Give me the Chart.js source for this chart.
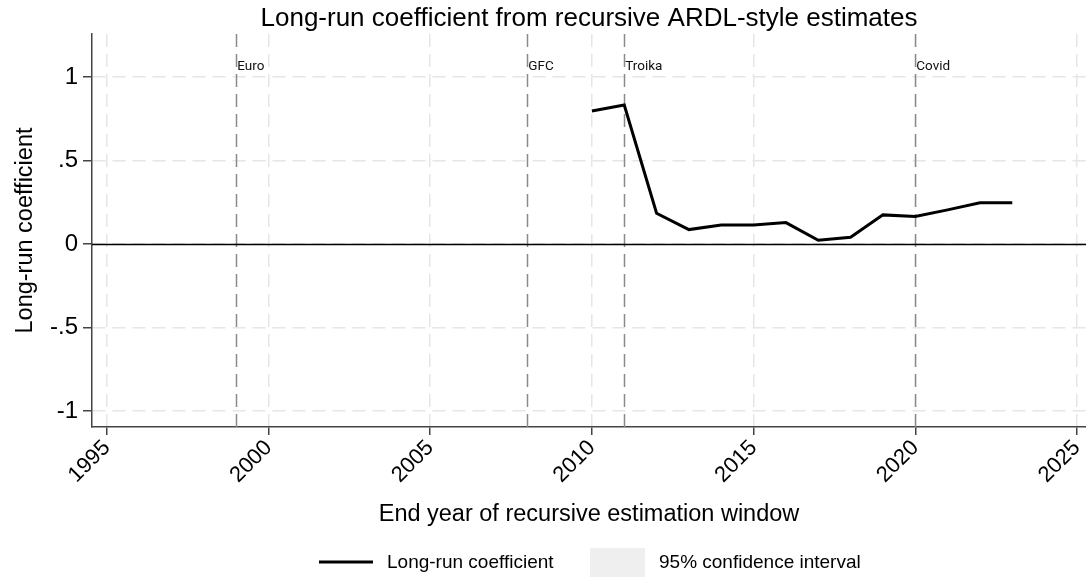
<!DOCTYPE html>
<html>
<head>
<meta charset="utf-8">
<title>Long-run coefficient</title>
<script src="https://cdn.jsdelivr.net/npm/chart.js@4.4.1/dist/chart.umd.min.js"></script>
<style>
  body { margin: 0; background: #fff; }
  canvas { display: block; }
</style>
</head>
<body>
<canvas id="myChart" width="1086" height="578"></canvas>
<script>
// data
const years = [2010, 2011, 2012, 2013, 2014, 2015, 2016, 2017, 2018, 2019, 2020, 2021, 2022, 2023]
const coef = [0.796, 0.832, 0.184, 0.086, 0.114, 0.114, 0.128, 0.022, 0.040, 0.174, 0.164, 0.204, 0.246, 0.246]

const xTicks = [1995, 2000, 2005, 2010, 2015, 2020, 2025]
const yTicks = [-1, -0.5, 0, 0.5, 1]
const yTickLabels = ['-1', '-.5', '0', '.5', '1']

const eventYears = [1999, 2008, 2011, 2020]
const eventLabels = ['Euro', 'GFC', 'Troika', 'Covid']

const legendLabels = ['Long-run coefficient', '95% confidence interval']

const FONT = '"Liberation Sans", Arial, sans-serif'

const extras = {
  id: 'extras',
  beforeDatasetsDraw(chart) {
    const {ctx, chartArea, scales} = chart
    ctx.save()
    // event lines
    ctx.strokeStyle = '#8a8a8a'
    ctx.lineWidth = 1.5
    ctx.setLineDash([13, 7])
    eventYears.forEach(yr => {
      const x = Math.round(scales.x.getPixelForValue(yr)) + 0.5
      ctx.beginPath()
      ctx.moveTo(x, chartArea.top)
      ctx.lineTo(x, chartArea.bottom)
      ctx.stroke()
    })
    // zero line
    ctx.setLineDash([])
    ctx.strokeStyle = '#000'
    ctx.lineWidth = 1.3
    const y0 = Math.round(scales.y.getPixelForValue(0)) + 0.5
    ctx.beginPath()
    ctx.moveTo(chartArea.left, y0)
    ctx.lineTo(chartArea.right, y0)
    ctx.stroke()
    // event labels
    ctx.fillStyle = '#111'
    ctx.font = '13.5px Roboto, ' + FONT
    ctx.textBaseline = 'middle'
    ctx.textAlign = 'left'
    eventYears.forEach((yr, i) => {
      ctx.fillText(eventLabels[i], scales.x.getPixelForValue(yr) + 1, 67)
    })
    ctx.restore()
  },
  afterDraw(chart) {
    const {ctx, chartArea} = chart
    ctx.save()
    // title
    ctx.fillStyle = '#000'
    ctx.font = '26px ' + FONT
    ctx.textAlign = 'center'
    ctx.textBaseline = 'middle'
    ctx.fillText('Long-run coefficient from recursive ARDL-style estimates', (chartArea.left + chartArea.right) / 2, 19)
    // legend
    ctx.font = '19px ' + FONT
    ctx.textAlign = 'left'
    ctx.strokeStyle = '#000'
    ctx.lineWidth = 3
    ctx.beginPath()
    ctx.moveTo(319, 562)
    ctx.lineTo(373, 562)
    ctx.stroke()
    ctx.fillText(legendLabels[0], 387, 563)
    ctx.fillStyle = '#efefef'
    ctx.fillRect(590, 548, 55, 29)
    ctx.fillStyle = '#000'
    ctx.fillText(legendLabels[1], 659, 563)
    ctx.restore()
  }
}

const ctx = document.getElementById('myChart')
const myChart = new Chart(ctx, {
  type: 'line',
  data: {
    datasets: [{
      label: legendLabels[0],
      data: years.map((yr, i) => ({x: yr, y: coef[i]})),
      borderColor: '#000',
      borderWidth: 3,
      pointRadius: 0,
      tension: 0,
      fill: false
    }]
  },
  options: {
    responsive: false,
    animation: false,
    devicePixelRatio: 1,
    layout: {
      padding: {top: 34, right: 0, bottom: 40, left: 0}
    },
    plugins: {
      legend: {display: false},
      title: {display: false},
      tooltip: {enabled: false}
    },
    scales: {
      x: {
        type: 'linear',
        min: 1994.54,
        max: 2025.28,
        afterBuildTicks: scale => { scale.ticks = xTicks.map(v => ({value: v})) },
        afterFit: scale => {
          scale.height = 111
          scale.paddingLeft = 0
          scale.paddingRight = 0
        },
        grid: {
          color: '#e6e6e6',
          lineWidth: 1.5,
          tickColor: '#444',
          tickLength: 8,
          tickBorderDash: []
        },
        border: {display: true, color: '#444', width: 1.5, dash: [13, 7]},
        ticks: {
          autoSkip: false,
          minRotation: 45,
          maxRotation: 45,
          padding: 0,
          color: '#000',
          font: {family: FONT, size: 22},
          callback: v => String(v)
        },
        title: {
          display: true,
          text: 'End year of recursive estimation window',
          color: '#000',
          font: {family: FONT, size: 23.5},
          padding: {top: 0, bottom: 9}
        }
      },
      y: {
        type: 'linear',
        min: -1.096,
        max: 1.257,
        afterBuildTicks: scale => { scale.ticks = yTicks.map(v => ({value: v})) },
        afterFit: scale => { scale.width = 92 },
        grid: {
          color: '#e6e6e6',
          lineWidth: 1.5,
          tickColor: '#444',
          tickLength: 9,
          tickBorderDash: []
        },
        border: {display: true, color: '#444', width: 1.5, dash: [13, 7]},
        ticks: {
          padding: 5,
          color: '#000',
          font: {family: FONT, size: 24},
          callback: v => yTickLabels[yTicks.indexOf(v)]
        },
        title: {
          display: true,
          text: 'Long-run coefficient',
          color: '#000',
          font: {family: FONT, size: 23.5},
          padding: {top: 11, bottom: 0}
        }
      }
    }
  },
  plugins: [extras]
})
</script>
</body>
</html>
